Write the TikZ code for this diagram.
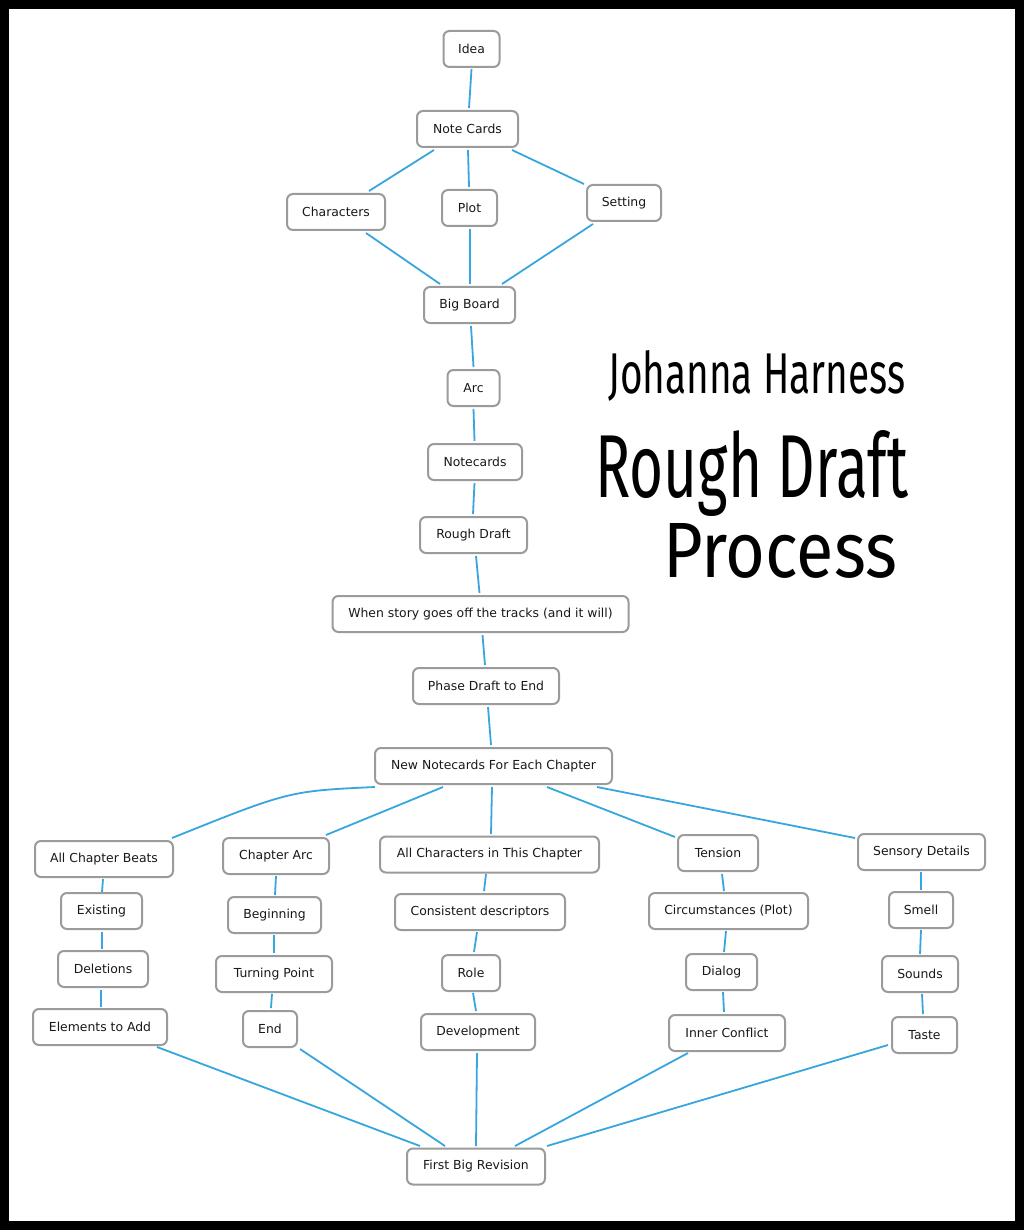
\documentclass[tikz,border=0pt]{standalone}
\usepackage{fontspec}
\setmainfont{DejaVu Sans}
\newfontfamily\titlefont{Fira Sans}
\definecolor{linkblue}{RGB}{56,166,222}
\definecolor{boxgray}{RGB}{155,155,155}
\definecolor{txt}{RGB}{25,25,25}
\newcommand\lnk[4]{\draw[link] ([shift={(#2)}]#1.center) -- ([shift={(#4)}]#3.center);}
\begin{document}
\begin{tikzpicture}[x=1pt,y=-1pt,
  box/.style={draw=boxgray, line width=2pt, rounded corners=6pt, fill=white,
    minimum height=36pt, inner sep=0pt, text=txt, font=\fontsize{12.4}{14}\selectfont},
  link/.style={draw=linkblue, line width=1.8pt}]
\useasboundingbox (0,0) rectangle (1024,1230);
\fill[black] (0,0) rectangle (1024,1230);
\fill[white] (9,9) rectangle (1015,1221);
% nodes
\node[box, minimum width=56pt] (idea) at (471.5,49) {Idea};
\node[box, minimum width=101pt] (nc) at (467.5,129) {Note Cards};
\node[box, minimum width=98pt] (char) at (336,212) {Characters};
\node[box, minimum width=55pt] (plot) at (469.5,208) {Plot};
\node[box, minimum width=74pt] (set) at (624,203) {Setting};
\node[box, minimum width=91pt] (bb) at (469.5,305) {Big Board};
\node[box, minimum width=52pt] (arc) at (473.5,388) {Arc};
\node[box, minimum width=94pt] (ncards) at (475,462) {Notecards};
\node[box, minimum width=107pt] (rd) at (473.5,535) {Rough Draft};
\node[box, minimum width=296pt] (when) at (480.5,614) {When story goes off the tracks (and it will)};
\node[box, minimum width=146pt] (phase) at (486,686) {Phase Draft to End};
\node[box, minimum width=237pt] (nn) at (493.5,766) {New Notecards For Each Chapter};
\node[box, minimum width=138pt] (acb) at (104,859) {All Chapter Beats};
\node[box, minimum width=106pt] (carc) at (276,856) {Chapter Arc};
\node[box, minimum width=219pt] (ac) at (489.5,854.5) {All Characters in This Chapter};
\node[box, minimum width=80pt] (ten) at (718,853) {Tension};
\node[box, minimum width=127pt] (sens) at (921.5,852) {Sensory Details};
\node[box, minimum width=81pt] (exist) at (101.5,911) {Existing};
\node[box, minimum width=93pt] (begin) at (274.5,915) {Beginning};
\node[box, minimum width=170pt] (cons) at (480,912) {Consistent descriptors};
\node[box, minimum width=159pt] (circ) at (728.5,911) {Circumstances (Plot)};
\node[box, minimum width=64pt] (smell) at (921,910) {Smell};
\node[box, minimum width=90pt] (del) at (103,969) {Deletions};
\node[box, minimum width=116pt] (tp) at (274,974) {Turning Point};
\node[box, minimum width=58pt] (role) at (471,973) {Role};
\node[box, minimum width=71pt] (dialog) at (721.5,972) {Dialog};
\node[box, minimum width=76pt] (sounds) at (920,974) {Sounds};
\node[box, minimum width=134pt] (elem) at (100,1027) {Elements to Add};
\node[box, minimum width=54pt] (end) at (270,1029) {End};
\node[box, minimum width=114pt] (dev) at (478,1032) {Development};
\node[box, minimum width=116pt] (inner) at (727,1033) {Inner Conflict};
\node[box, minimum width=65pt] (taste) at (924.5,1035) {Taste};
\node[box, minimum width=138pt] (fbr) at (476,1166.5) {First Big Revision};
% links
\lnk{idea}{0,20}{nc}{1.5,-21}
\lnk{nc}{-33.5,21}{char}{33,-21}
\lnk{nc}{0.5,21}{plot}{-0.5,-21}
\lnk{nc}{44.5,21}{set}{-40,-19}
\lnk{char}{30,21}{bb}{-29.5,-21}
\lnk{plot}{0.5,21}{bb}{0.5,-21}
\lnk{set}{-31,21}{bb}{32.5,-21}
\lnk{bb}{1.5,21}{arc}{0,-21}
\lnk{arc}{0,21}{ncards}{-0.5,-21}
\lnk{ncards}{-0.5,21}{rd}{-0.5,-21}
\lnk{rd}{2.5,21}{when}{-1,-21}
\lnk{when}{2,21}{phase}{-1,-21}
\lnk{phase}{2,21}{nn}{-2.5,-21}
\draw[link] ([shift={(-118.5,21)}]nn.center) .. controls ([shift={(-204.5,25)}]nn.center) .. ([shift={(68,-21)}]acb.center);
\lnk{nn}{-50.5,21}{carc}{50,-21}
\lnk{nn}{-1.5,21}{ac}{1.5,-20.5}
\lnk{nn}{53.5,21}{ten}{-43,-16}
\lnk{nn}{103.5,21}{sens}{-66.5,-14}
\lnk{acb}{-1,20}{exist}{0.5,-19}
\lnk{exist}{0.5,21}{del}{-1,-20}
\lnk{del}{-2,21}{elem}{1,-20}
\lnk{carc}{0,20}{begin}{0.5,-20}
\lnk{begin}{-0.5,20}{tp}{0,-21}
\lnk{tp}{-2,20}{end}{1,-21}
\lnk{ac}{-3.5,19.5}{cons}{4,-21}
\lnk{cons}{-3,20}{role}{3,-21}
\lnk{role}{2,20}{dev}{-2,-21}
\lnk{ten}{4,21}{circ}{-4.5,-20}
\lnk{circ}{-2.5,20}{dialog}{2.5,-20}
\lnk{dialog}{1.5,20}{inner}{-3,-21}
\lnk{sens}{-0.5,20}{smell}{0,-20}
\lnk{smell}{0,20}{sounds}{0,-20}
\lnk{sounds}{2,20}{taste}{-1.5,-21}
\lnk{elem}{57,20}{fbr}{-56,-20.5}
\lnk{end}{30,20}{fbr}{-31,-20.5}
\lnk{dev}{-1,21}{fbr}{0,-20.5}
\lnk{inner}{-39,20}{fbr}{39,-20.5}
\lnk{taste}{-36.5,10}{fbr}{71,-20.5}
% title
\node[anchor=base west, inner sep=0pt] (t1) at (608,393) {\resizebox{297pt}{43pt}{\titlefont Johanna Harness}};
\node[anchor=base west, inner sep=0pt] (t2) at (595,497) {\resizebox{313pt}{67pt}{\titlefont Rough Draft}};
\node[anchor=base west, inner sep=0pt] (t3) at (663,577) {\resizebox{234pt}{54pt}{\titlefont Process}};
\end{tikzpicture}
\end{document}
